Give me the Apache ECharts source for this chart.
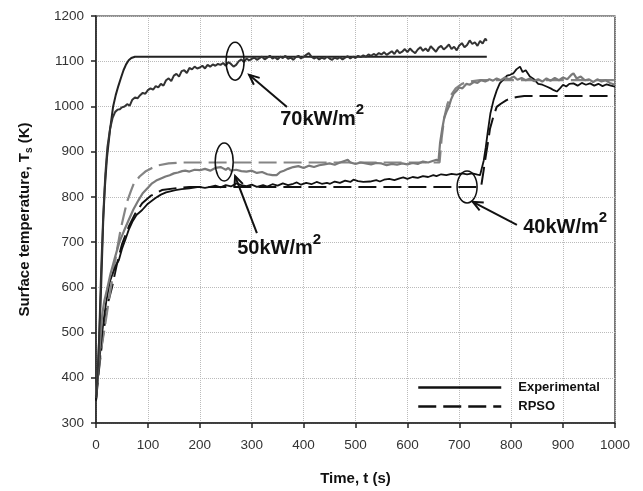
<!DOCTYPE html>
<html>
<head>
<meta charset="utf-8">
<script src="https://cdn.jsdelivr.net/npm/echarts@6/dist/echarts.min.js"></script>
<style>
  html, body { margin: 0; padding: 0; background: #fff; }
  #chart { width: 643px; height: 491px; }
</style>
</head>
<body>
<div id="chart"></div>
<script>
// axis ticks
var timeTicks = [0, 1000, 100];
var tempTicks = [300, 1200, 100];

// 70 kW/m2
var rpso70 = [[0,350],[4,430],[7,510],[10,605],[14,750],[17,820],[21,885],[27,948],[33,1000],[38,1025],[43,1045],[48,1063],[53,1080],[58,1093],[63,1102],[68,1107],[75,1110],[753,1110]];
var exp70 = [[0,355],[5,450],[10,640],[14,760],[18,850],[22,910],[27,950],[32,975],[37,988],[42,993],[46,994],
  [50,998],[55,1000],[60,1005],[65,1002],[70,1015],[75,1020],[80,1018],[85,1025],[90,1030],[95,1028],[100,1036],
  [105,1040],[110,1037],[115,1045],[120,1042],[125,1050],[130,1046],[135,1058],[140,1062],[145,1056],[150,1068],
  [155,1072],[160,1066],[165,1078],[170,1080],[175,1074],[180,1085],[185,1082],[190,1088],[195,1084],[200,1086],
  [205,1090],[210,1084],[215,1092],[220,1088],[225,1093],[230,1090],[235,1094],[240,1092],[245,1096],[250,1090],
  [255,1098],[260,1094],[265,1088],[270,1092],[275,1100],[280,1104],[285,1098],[290,1106],[295,1102],[300,1105],
  [305,1108],[310,1103],[315,1107],[320,1110],[325,1104],[330,1108],[335,1112],[340,1106],[345,1109],[350,1104],
  [355,1110],[360,1107],[365,1112],[370,1105],[375,1108],[380,1103],[385,1109],[390,1112],[395,1106],[400,1110],
  [405,1114],[410,1118],[415,1110],[420,1106],[425,1109],[430,1104],[435,1108],[440,1105],[445,1110],[450,1106],
  [455,1103],[460,1108],[465,1105],[470,1109],[475,1104],[480,1108],[485,1111],[490,1106],[495,1110],[500,1107],
  [505,1112],[510,1109],[515,1113],[520,1110],[525,1115],[530,1112],[535,1116],[540,1113],[545,1118],[550,1115],
  [555,1120],[560,1114],[565,1118],[570,1122],[575,1116],[580,1125],[585,1118],[590,1121],[595,1127],[600,1120],
  [605,1128],[610,1122],[615,1118],[620,1126],[625,1131],[630,1123],[635,1128],[640,1122],[645,1133],[650,1127],
  [655,1121],[660,1130],[665,1134],[670,1126],[675,1131],[680,1137],[685,1127],[690,1132],[695,1124],[700,1135],
  [705,1140],[710,1131],[715,1136],[720,1146],[725,1138],[730,1142],[735,1134],[740,1145],[745,1139],[750,1150],[753,1145]];

// 50 kW/m2
var rpso50 = [[0,355],[5,420],[11,470],[16,505],[21,543],[26,580],[31,616],[40,680],[47,725],[53,756],[60,790],[67,812],
  [73,830],[84,845],[95,856],[108,864],[121,870],[140,874],[166,876],[662,876],[666,930],[671,975],[677,1005],
  [684,1025],[693,1040],[705,1050],[720,1055],[740,1058],[1000,1058]];
var exp50 = [[0,360],[4,420],[8,480],[12,540],[16,570],[21,594],[28,630],[37,668],[45,700],[54,725],[63,749],[72,772],
  [82,793],[90,808],[100,820],[108,830],[116,836],[124,840],[134,845],[142,848],[150,852],[158,854],[166,857],[172,858],
  [180,856],[190,860],[200,859],[210,862],[220,858],[230,864],[240,866],[245,863],[250,860],[255,864],[260,858],
  [270,860],[280,857],[290,856],[300,858],[310,853],[320,855],[330,850],[340,848],[348,848],[355,855],[362,858],
  [370,862],[380,866],[390,868],[400,864],[410,869],[420,866],[430,870],[440,872],[450,874],[460,871],[470,876],
  [480,880],[485,882],[490,876],[500,873],[510,876],[520,874],[530,872],[540,875],[550,874],[560,870],[570,873],
  [580,871],[590,874],[600,872],[610,875],[620,873],[630,878],[640,876],[650,880],[656,882],[660,880],[663,920],
  [667,950],[671,975],[676,990],[680,1000],[684,1015],[689,1028],[695,1035],[700,1042],[706,1040],[714,1050],
  [720,1048],[728,1054],[735,1052],[742,1058],[750,1055],[758,1060],[765,1057],[772,1062],[780,1058],[788,1064],
  [796,1060],[805,1066],[812,1059],[820,1063],[828,1058],[836,1062],[844,1056],[852,1060],[860,1055],[868,1062],
  [876,1057],[884,1063],[892,1058],[900,1064],[908,1060],[916,1070],[920,1073],[926,1062],[934,1066],[942,1058],
  [950,1060],[958,1054],[966,1060],[974,1055],[982,1058],[990,1052],[1000,1048]];

// 40 kW/m2
var rpso40 = [[0,350],[6,420],[12,480],[18,530],[24,570],[31,601],[40,650],[50,695],[63,734],[75,762],[89,786],
  [105,802],[127,815],[159,820],[180,822],[742,822],[746,852],[751,890],[756,926],[759,950],[765,975],[772,999],
  [780,1006],[791,1014],[800,1018],[811,1021],[825,1023],[1000,1023]];
var exp40 = [[0,350],[5,420],[10,480],[15,530],[20,570],[26,610],[32,630],[38,648],[44,660],[50,685],[57,707],[63,727],
  [70,745],[78,760],[89,771],[100,785],[114,797],[125,805],[135,810],[153,815],[165,817],[180,819],[198,822],
  [210,820],[220,822],[230,825],[240,821],[250,826],[260,823],[271,830],[280,826],[290,824],[300,827],[310,822],
  [322,826],[330,823],[340,828],[350,825],[360,830],[370,826],[380,829],[387,832],[395,827],[405,831],[415,828],
  [425,833],[435,829],[445,831],[451,829],[460,834],[470,831],[480,836],[490,833],[496,838],[505,835],[515,833],
  [528,834],[540,837],[547,834],[555,838],[565,840],[575,837],[585,841],[592,843],[600,840],[610,844],[620,842],
  [630,846],[640,844],[650,848],[656,846],[665,850],[675,848],[685,851],[695,849],[705,852],[715,850],[725,852],
  [735,849],[740,848],[743,852],[747,880],[751,910],[755,945],[760,985],[766,1014],[772,1035],[778,1051],[785,1060],
  [792,1068],[798,1070],[804,1073],[810,1082],[817,1088],[822,1076],[828,1080],[836,1066],[844,1060],[852,1050],
  [860,1048],[868,1044],[876,1040],[882,1036],[888,1033],[894,1040],[900,1048],[906,1044],[912,1050],[920,1051],
  [928,1046],[936,1052],[944,1048],[952,1051],[960,1046],[968,1050],[976,1045],[984,1049],[992,1046],[1000,1044]];

var legendNames = ['Experimental', 'RPSO'];

var chart = echarts.init(document.getElementById('chart'));

function line(name, data, color, dashed, width) {
  return {
    name: name,
    type: 'line',
    data: data,
    showSymbol: false,
    symbol: 'none',
    smooth: false,
    lineStyle: { color: color, width: width || 2, type: dashed ? [18, 7] : 'solid' },
    itemStyle: { color: color },
    emphasis: { disabled: true }
  };
}

var axisFont = { fontFamily: 'Liberation Sans, Arial, sans-serif', fontSize: 13.5, color: '#333' };
var plain = function (v) { return String(v); };

chart.setOption({
  animation: false,
  backgroundColor: '#fff',
  grid: { left: 96, right: 28, top: 16, bottom: 68, show: true, borderColor: '#222', borderWidth: 1.2 },
  legend: {
    data: legendNames,
    orient: 'vertical',
    left: 412,
    top: 376,
    itemWidth: 83,
    itemHeight: 14,
    itemGap: 6,
    itemStyle: { color: 'rgba(0,0,0,0)', borderWidth: 0 },
    lineStyle: { width: 2.5 },
    textStyle: { fontFamily: 'Liberation Sans, Arial, sans-serif', fontSize: 13, fontWeight: 'bold', color: '#111', padding: [0, 0, 0, 12] }
  },
  xAxis: {
    type: 'value',
    min: timeTicks[0], max: timeTicks[1], interval: timeTicks[2],
    name: 'Time, t (s)',
    nameLocation: 'middle',
    nameGap: 48,
    nameTextStyle: { fontFamily: 'Liberation Sans, Arial, sans-serif', fontSize: 15, fontWeight: 'bold', color: '#111' },
    axisLine: { lineStyle: { color: '#222', width: 1.5 } },
    axisTick: { length: 5, lineStyle: { color: '#222', width: 1.5 } },
    axisLabel: Object.assign({ margin: 15, formatter: plain }, axisFont),
    splitLine: { lineStyle: { color: '#bbb', type: 'dotted' } }
  },
  yAxis: {
    type: 'value',
    min: tempTicks[0], max: tempTicks[1], interval: tempTicks[2],
    name: 'Surface temperature, T{s|s} (K)',
    nameLocation: 'middle',
    nameGap: 62,
    nameTextStyle: {
      fontFamily: 'Liberation Sans, Arial, sans-serif', fontSize: 15, fontWeight: 'bold', color: '#111',
      rich: { s: { fontSize: 10, fontWeight: 'bold', color: '#111', padding: [8, 0, 0, 0] } }
    },
    axisLine: { lineStyle: { color: '#222', width: 1.5 } },
    axisTick: { length: 5, lineStyle: { color: '#222', width: 1.5 } },
    axisLabel: Object.assign({ margin: 12, formatter: plain }, axisFont),
    splitLine: { lineStyle: { color: '#bbb', type: 'dotted' } }
  },
  series: [
    line('RPSO', rpso40, '#111', true, 2),
    line('RPSO', rpso50, '#858585', true, 2.2),
    line('RPSO', rpso70, '#222', false, 2),
    line('Experimental', exp40, '#111', false, 1.8),
    line('Experimental', exp50, '#7a7a7a', false, 2.2),
    line('Experimental', exp70, '#333', false, 2)
  ]
});

// callouts: oval round a curve, arrow from label to oval, label text
var notes = [
  { text: '70kW/m', oval: [268, 1100], rx: 9, ry: 19, tip: [295, 1070], tail: [368, 999], at: [355, 972] },
  { text: '50kW/m', oval: [247, 877], rx: 9, ry: 19, tip: [268, 846], tail: [310, 720], at: [272, 685] },
  { text: '40kW/m', oval: [715, 822], rx: 10, ry: 16, tip: [726, 789], tail: [811, 738], at: [823, 733] }
];

var graphics = [];
notes.forEach(function (n) {
  var c = chart.convertToPixel({ gridIndex: 0 }, n.oval);
  var tip = chart.convertToPixel({ gridIndex: 0 }, n.tip);
  var tail = chart.convertToPixel({ gridIndex: 0 }, n.tail);
  var at = chart.convertToPixel({ gridIndex: 0 }, n.at);
  graphics.push({
    type: 'ellipse', shape: { cx: c[0], cy: c[1], rx: n.rx, ry: n.ry },
    style: { fill: 'none', stroke: '#111', lineWidth: 1.5 }, z: 100
  });
  graphics.push({
    type: 'line', shape: { x1: tail[0], y1: tail[1], x2: tip[0], y2: tip[1] },
    style: { stroke: '#111', lineWidth: 2 }, z: 100
  });
  var ang = Math.atan2(tail[1] - tip[1], tail[0] - tip[0]);
  var len = 11, spread = 0.42;
  graphics.push({
    type: 'polyline',
    shape: { points: [
      [tip[0] + len * Math.cos(ang + spread), tip[1] + len * Math.sin(ang + spread)],
      [tip[0], tip[1]],
      [tip[0] + len * Math.cos(ang - spread), tip[1] + len * Math.sin(ang - spread)]
    ] },
    style: { fill: 'none', stroke: '#111', lineWidth: 2 }, z: 100
  });
  graphics.push({
    type: 'text', x: at[0], y: at[1], z: 100,
    style: {
      text: '{a|' + n.text + '}{b|2}',
      verticalAlign: 'middle',
      rich: {
        a: { fontFamily: 'Liberation Sans, Arial, sans-serif', fontSize: 20, fontWeight: 'bold', fill: '#111', lineHeight: 34 },
        b: { fontFamily: 'Liberation Sans, Arial, sans-serif', fontSize: 15, fontWeight: 'bold', fill: '#111', lineHeight: 15, verticalAlign: 'top' }
      }
    }
  });
});
chart.setOption({ graphic: graphics });
</script>
</body>
</html>
